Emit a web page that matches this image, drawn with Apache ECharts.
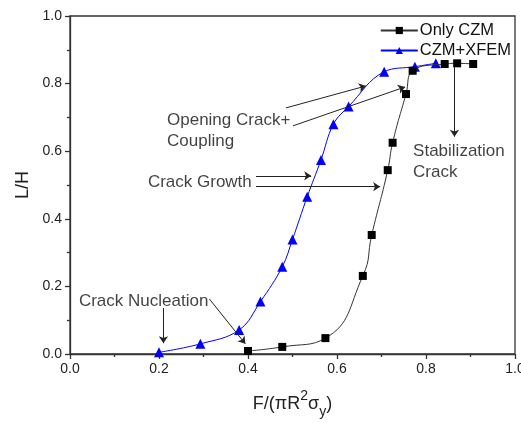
<!DOCTYPE html>
<html>
<head>
<meta charset="utf-8">
<script src="https://cdn.jsdelivr.net/npm/echarts@6/dist/echarts.min.js"></script>
<style>
  html, body { margin: 0; padding: 0; background: #fff; }
  #chart { width: 521px; height: 423px; }
</style>
</head>
<body>
<div id="chart"></div>
<script>
// Only CZM (black squares)
const czmX = [0.400, 0.477, 0.574, 0.658, 0.678, 0.714, 0.725, 0.755, 0.770, 0.842, 0.870, 0.906];
const czmY = [0.009, 0.021, 0.047, 0.231, 0.352, 0.544, 0.625, 0.769, 0.838, 0.858, 0.860, 0.858];
// CZM+XFEM (blue triangles)
const xfemX = [0.200, 0.293, 0.380, 0.428, 0.477, 0.500, 0.533, 0.564, 0.592, 0.626, 0.706, 0.775, 0.822];
const xfemY = [0.005, 0.030, 0.071, 0.155, 0.258, 0.339, 0.465, 0.574, 0.680, 0.732, 0.835, 0.850, 0.860];

// annotation arrows, [from, to] in data units
const arrows = [
  [[0.485, 0.728], [0.665, 0.793]],
  [[0.501, 0.675], [0.753, 0.790]],
  [[0.418, 0.527], [0.542, 0.527]],
  [[0.418, 0.495], [0.697, 0.495]],
  [[0.864, 0.850], [0.864, 0.643]],
  [[0.210, 0.136], [0.210, 0.032]],
  [[0.313, 0.163], [0.394, 0.030]]
];
// annotation texts, anchored at left-middle
const notes = [
  { pos: [0.218, 0.660], text: 'Opening Crack+\nCoupling' },
  { pos: [0.175, 0.509], text: 'Crack Growth' },
  { pos: [0.771, 0.568], text: 'Stabilization\nCrack' },
  { pos: [0.020, 0.157], text: 'Crack Nucleation' }
];

const font = 'Liberation Sans, Arial, sans-serif';
const chart = echarts.init(document.getElementById('chart'));

const zip = (xs, ys) => xs.map((x, i) => [x, ys[i]]);

const axisCommon = {
  type: 'value',
  min: 0,
  max: 1,
  interval: 0.2,
  axisLine: { show: true, lineStyle: { color: '#333', width: 1.3 } },
  axisTick: { show: true, inside: false, length: 5, lineStyle: { color: '#333', width: 1.3 } },
  minorTick: { show: true, splitNumber: 2, length: 3, lineStyle: { color: '#333', width: 1.3 } },
  splitLine: { show: false },
  axisLabel: {
    fontFamily: font, fontSize: 14, color: '#222',
    formatter: v => v.toFixed(1)
  }
};

const option = {
  animation: false,
  grid: {
    left: 70, top: 16, right: 6, bottom: 69,
    outerBoundsMode: 'none',
    containLabel: false,
    show: true, borderColor: '#333', borderWidth: 1.3, backgroundColor: 'transparent'
  },
  legend: {
    data: ['Only CZM', 'CZM+XFEM'],
    orient: 'vertical',
    right: 5,
    top: 17,
    itemWidth: 37,
    itemHeight: 9,
    itemGap: 3,
    textStyle: { fontFamily: font, fontSize: 16.5, color: '#111', padding: [0, 0, 0, -3] }
  },
  xAxis: Object.assign({}, axisCommon, {
    name: '{a|F/(πR}{sup|2}{a|σ}{sub|y}{a|)}',
    nameLocation: 'middle',
    nameGap: 35,
    nameTextStyle: {
      rich: {
        a: { fontFamily: font, fontSize: 18, color: '#222', lineHeight: 30, verticalAlign: 'middle' },
        sup: { fontFamily: font, fontSize: 14, color: '#222', lineHeight: 14, verticalAlign: 'top' },
        sub: { fontFamily: font, fontSize: 14, color: '#222', lineHeight: 14, verticalAlign: 'bottom' }
      }
    }
  }),
  yAxis: Object.assign({}, axisCommon, {
    name: 'L/H',
    nameLocation: 'middle',
    nameGap: 36,
    nameTextStyle: { fontFamily: font, fontSize: 18, color: '#222' }
  }),
  series: [
    {
      name: 'Only CZM',
      type: 'line',
      data: zip(czmX, czmY),
      smooth: 0.5,
      symbol: 'rect',
      symbolSize: 8,
      showAllSymbol: true,
      itemStyle: { color: '#000' },
      lineStyle: { color: '#333', width: 1 },
      z: 3
    },
    {
      name: 'CZM+XFEM',
      type: 'line',
      data: zip(xfemX, xfemY),
      smooth: 0.4,
      symbol: 'triangle',
      symbolSize: 10,
      showAllSymbol: true,
      itemStyle: { color: '#0000ff' },
      lineStyle: { color: '#0000ff', width: 1 },
      z: 2
    },
    {
      name: 'arrows',
      type: 'lines',
      coordinateSystem: 'cartesian2d',
      silent: true,
      symbol: ['none', 'arrow'],
      symbolSize: 7,
      lineStyle: { color: '#222', width: 1, opacity: 1 },
      data: arrows.map(a => ({ coords: a })),
      z: 4
    },
    {
      name: 'notes',
      type: 'scatter',
      silent: true,
      symbolSize: 0,
      data: notes.map(n => ({ value: n.pos, name: n.text })),
      label: {
        show: true,
        position: 'right',
        distance: 0,
        formatter: p => p.name,
        fontFamily: font,
        fontSize: 17,
        lineHeight: 21,
        color: '#111'
      },
      z: 5
    }
  ]
};

chart.setOption(option);
</script>
</body>
</html>
